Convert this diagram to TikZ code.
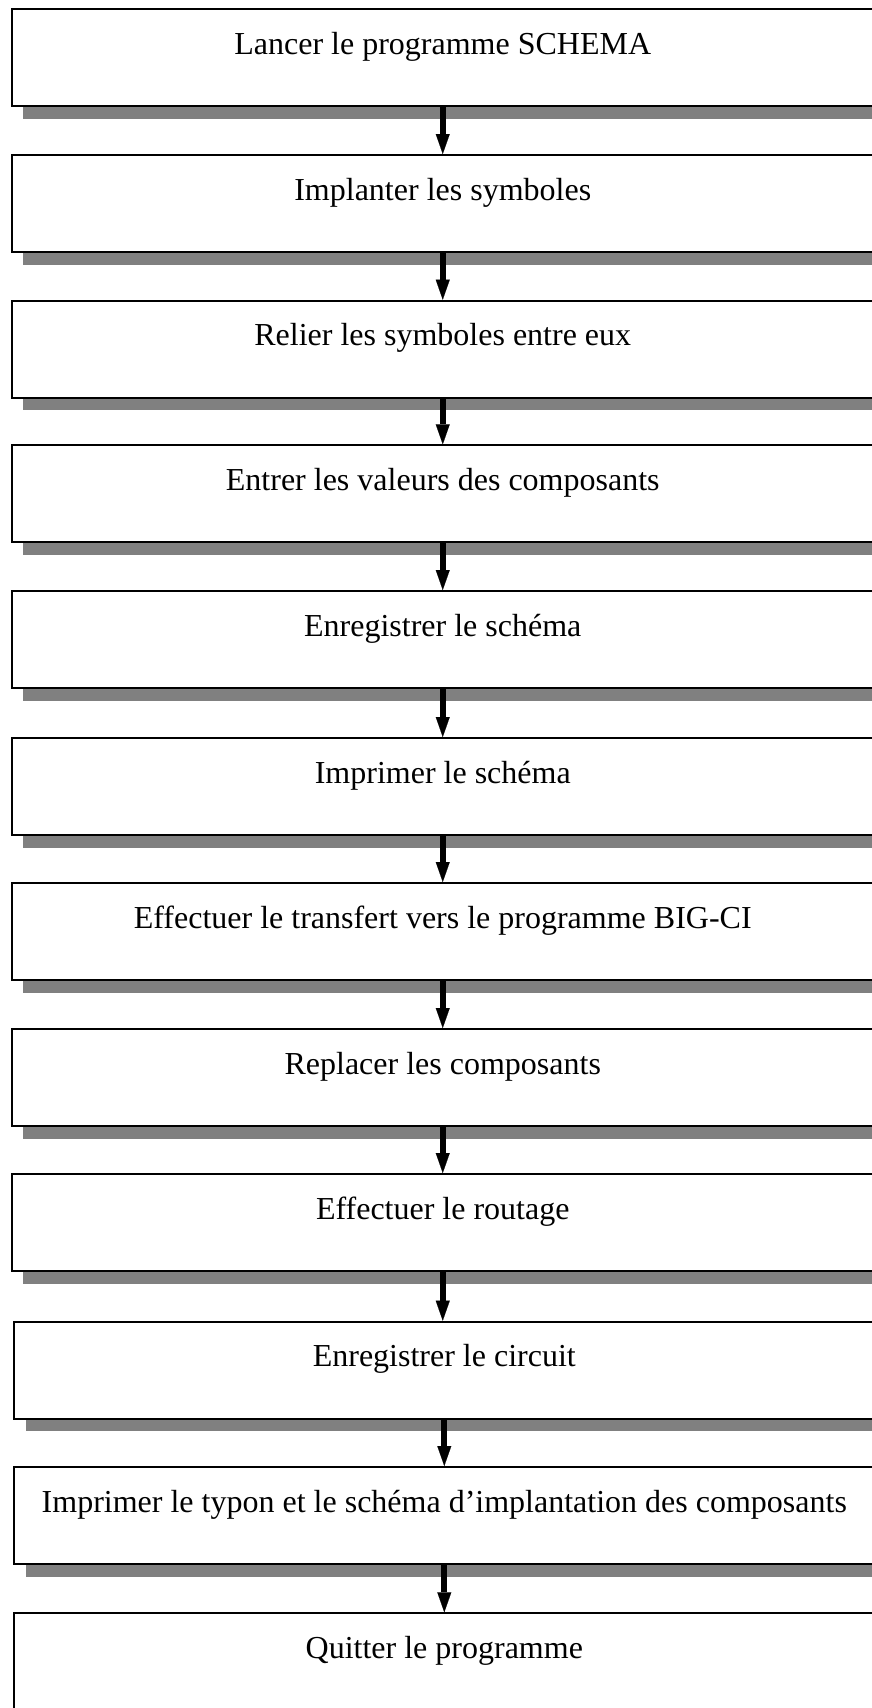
\documentclass[tikz,border=0pt]{standalone}
\usepackage{fontspec}
\setmainfont{Liberation Serif}
\usetikzlibrary{shadows,arrows.meta}
\tikzset{
  stepbox/.style={draw=black, line width=2pt, fill=white, inner sep=0pt,
    minimum width=862.5pt, text height=45pt, text depth=52pt, anchor=north,
    font=\fontsize{32}{38}\selectfont,
    general shadow={fill=black!50, shadow xshift=11.5pt, shadow yshift=-12.5pt}},
  stepboxb/.style={stepbox, minimum width=860pt},
  flow/.style={line width=6pt, -{Triangle[width=14pt,length=20pt,line width=0.1pt]}}
}
\begin{document}
\begin{tikzpicture}[x=1pt,y=-1pt]
\useasboundingbox (0,0) rectangle (872,1708);
\clip (0,0) rectangle (872,1708);
\fill[white] (0,0) rectangle (872,1708);
\node[stepbox] (b1) at (442.75,8) {Lancer le programme SCHEMA};
\node[stepbox] (b2) at (442.75,154) {Implanter les symboles};
\node[stepbox] (b3) at (442.75,299.7) {Relier les symboles entre eux};
\node[stepbox] (b4) at (442.75,444.3) {Entrer les valeurs des composants};
\node[stepbox] (b5) at (442.75,590) {Enregistrer le schéma};
\node[stepbox] (b6) at (442.75,737) {Imprimer le schéma};
\node[stepbox] (b7) at (442.75,882) {Effectuer le transfert vers le programme BIG-CI};
\node[stepbox] (b8) at (442.75,1028) {Replacer les composants};
\node[stepbox] (b9) at (442.75,1173) {Effectuer le routage};
\node[stepboxb] (b10) at (444.3,1320.7) {Enregistrer le circuit};
\node[stepboxb] (b11) at (444.3,1466) {Imprimer le typon et le schéma d’implantation des composants};
\node[stepboxb] (b12) at (444.3,1612.3) {Quitter le programme};
\draw[flow] (b1.south) -- (b2.north);
\draw[flow] (b2.south) -- (b3.north);
\draw[flow] (b3.south) -- (b4.north);
\draw[flow] (b4.south) -- (b5.north);
\draw[flow] (b5.south) -- (b6.north);
\draw[flow] (b6.south) -- (b7.north);
\draw[flow] (b7.south) -- (b8.north);
\draw[flow] (b8.south) -- (b9.north);
\draw[flow] (b9.south) -- (b9.south |- b10.north);
\draw[flow] (b10.south) -- (b11.north);
\draw[flow] (b11.south) -- (b12.north);
\end{tikzpicture}
\end{document}
